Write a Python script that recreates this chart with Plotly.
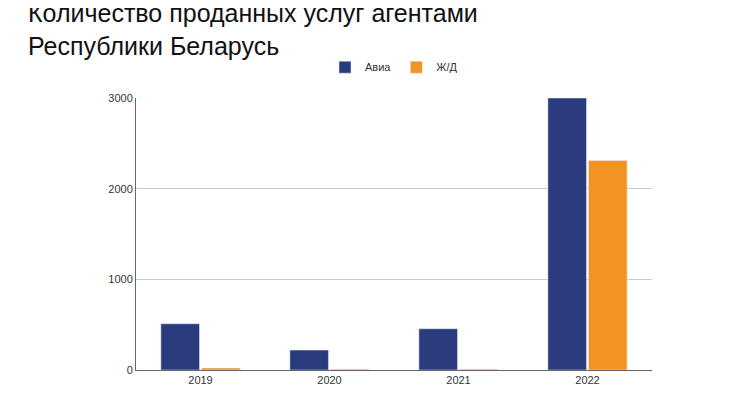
import plotly.graph_objects as go

years = ["2019", "2020", "2021", "2022"]
avia = [510, 220, 455, 3000]
zhd = [22, 8, 8, 2310]

fig = go.Figure()
fig.add_bar(x=years, y=avia, name="Авиа", marker_color="#2b3c7e")
fig.add_bar(x=years, y=zhd, name="Ж/Д", marker_color="#f39322")
fig.update_layout(
    width=734, height=400, plot_bgcolor="white", paper_bgcolor="white",
    font=dict(family="Liberation Sans, Arial", color="#333", size=11),
    margin=dict(l=128, r=90, t=90, b=38, autoexpand=False),
    barmode="group", bargap=0.37, bargroupgap=0.05,
    legend=dict(orientation="h", x=0.5, xanchor="center", y=1.06, yanchor="bottom",
                font=dict(size=11)),
    yaxis=dict(range=[0, 3000], tickvals=[0, 1000, 2000, 3000], gridcolor="#ccc",
               showline=True, linecolor="#666", ticks="", zeroline=False),
    xaxis=dict(showline=True, linecolor="#666"),
    annotations=[dict(text="Количество проданных услуг агентами<br>Республики Беларусь",
                      xref="paper", yref="paper", x=-0.213, y=1.37,
                      xanchor="left", yanchor="top", align="left", showarrow=False,
                      font=dict(size=25, color="#111"))],
)
fig.write_html("out.html")
